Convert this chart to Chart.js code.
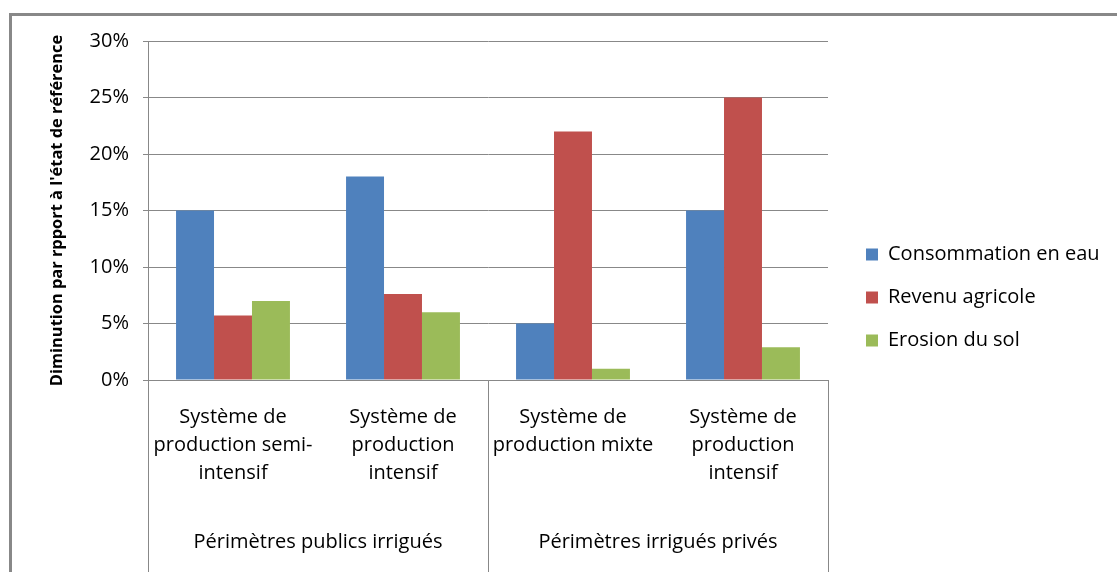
<!DOCTYPE html>
<html>
<head>
<meta charset="utf-8">
<script src="https://cdn.jsdelivr.net/npm/chart.js@4"></script>
<style>
  html, body { margin: 0; padding: 0; background: #fff; overflow: hidden; }
  #frame { position: absolute; left: 9px; top: 13px; width: 1200px; height: 700px; border: 3px solid #888; box-sizing: border-box; }
  #wrap { position: absolute; left: 0; top: 0; width: 1117px; height: 572px; }
</style>
</head>
<body>
<div id="frame"></div>
<div id="wrap"><canvas id="chart"></canvas></div>
<script>
// données
const categories = [
  ['Système de', 'production semi-', 'intensif'],
  ['Système de', 'production', 'intensif'],
  ['Système de', 'production mixte'],
  ['Système de', 'production', 'intensif']
];
const groups = ['Périmètres publics irrigués', 'Périmètres irrigués privés'];
const consommation = [15, 18, 5, 15];
const revenu = [5.7, 7.6, 22, 25];
const erosion = [7, 6, 1, 2.9];
const yTicks = [0, 5, 10, 15, 20, 25, 30];

const gray = '#888888';
const font = '"Open Sans", "Liberation Sans", sans-serif';

new Chart(document.getElementById('chart').getContext('2d'), {
  type: 'bar',
  data: {
    labels: categories,
    datasets: [
      { label: 'Consommation en eau', data: consommation, backgroundColor: '#4F81BD' },
      { label: 'Revenu agricole', data: revenu, backgroundColor: '#C0504D' },
      { label: 'Erosion du sol', data: erosion, backgroundColor: '#9BBB59' }
    ]
  },
  options: {
    responsive: true,
    maintainAspectRatio: false,
    animation: false,
    categoryPercentage: 0.67,
    barPercentage: 1,
    layout: { padding: { left: 30, top: 23, right: 14, bottom: 0 } },
    plugins: {
      tooltip: { enabled: false },
      legend: {
        position: 'right',
        maxWidth: 260,
        labels: {
          boxWidth: 12, boxHeight: 12, padding: 23, color: '#000',
          font: { family: font, size: 20 }
        }
      }
    },
    scales: {
      x: {
        weight: 0,
        offset: true,
        grid: {
          offset: true, drawOnChartArea: false, tickLength: 130,
          color: ctx => (ctx.index === undefined || ctx.index % 2 === 0) ? gray : 'rgba(0,0,0,0)'
        },
        border: { display: true, color: gray, width: 1 },
        ticks: {
          padding: -107, color: '#000', maxRotation: 0, autoSkip: false,
          font: { family: font, size: 20, lineHeight: 1.4 }
        },
        afterFit: s => { s.height = 130; }
      },
      x2: {
        type: 'category',
        labels: groups,
        position: 'bottom',
        weight: 1,
        offset: true,
        grid: { offset: true, drawOnChartArea: false, tickLength: 62, color: gray },
        border: { display: false },
        ticks: {
          padding: -42, color: '#000', maxRotation: 0, autoSkip: false,
          font: { family: font, size: 20 }
        },
        afterFit: s => { s.height = 62; }
      },
      topSpace: {
        type: 'linear',
        position: 'top',
        display: false,
        afterFit: s => { s.height = 18; }
      },
      y: {
        min: 0, max: 30,
        afterBuildTicks: s => { s.ticks = yTicks.map(v => ({ value: v })); },
        grid: { color: gray, tickLength: 5 },
        border: { display: true, color: gray },
        ticks: {
          padding: 14, color: '#000',
          font: { family: font, size: 20 },
          callback: v => v + '%'
        },
        title: {
          display: true,
          text: "Diminution par rpport à l'état de référence",
          color: '#000',
          font: { family: font, size: 16.4, weight: 'bold' },
          padding: { top: 17, bottom: 0 }
        },
        afterFit: s => { s.width = 118; }
      },
      spacer: {
        type: 'linear',
        position: 'right',
        display: false,
        afterFit: s => { s.width = 15; }
      }
    }
  }
});
</script>
</body>
</html>
